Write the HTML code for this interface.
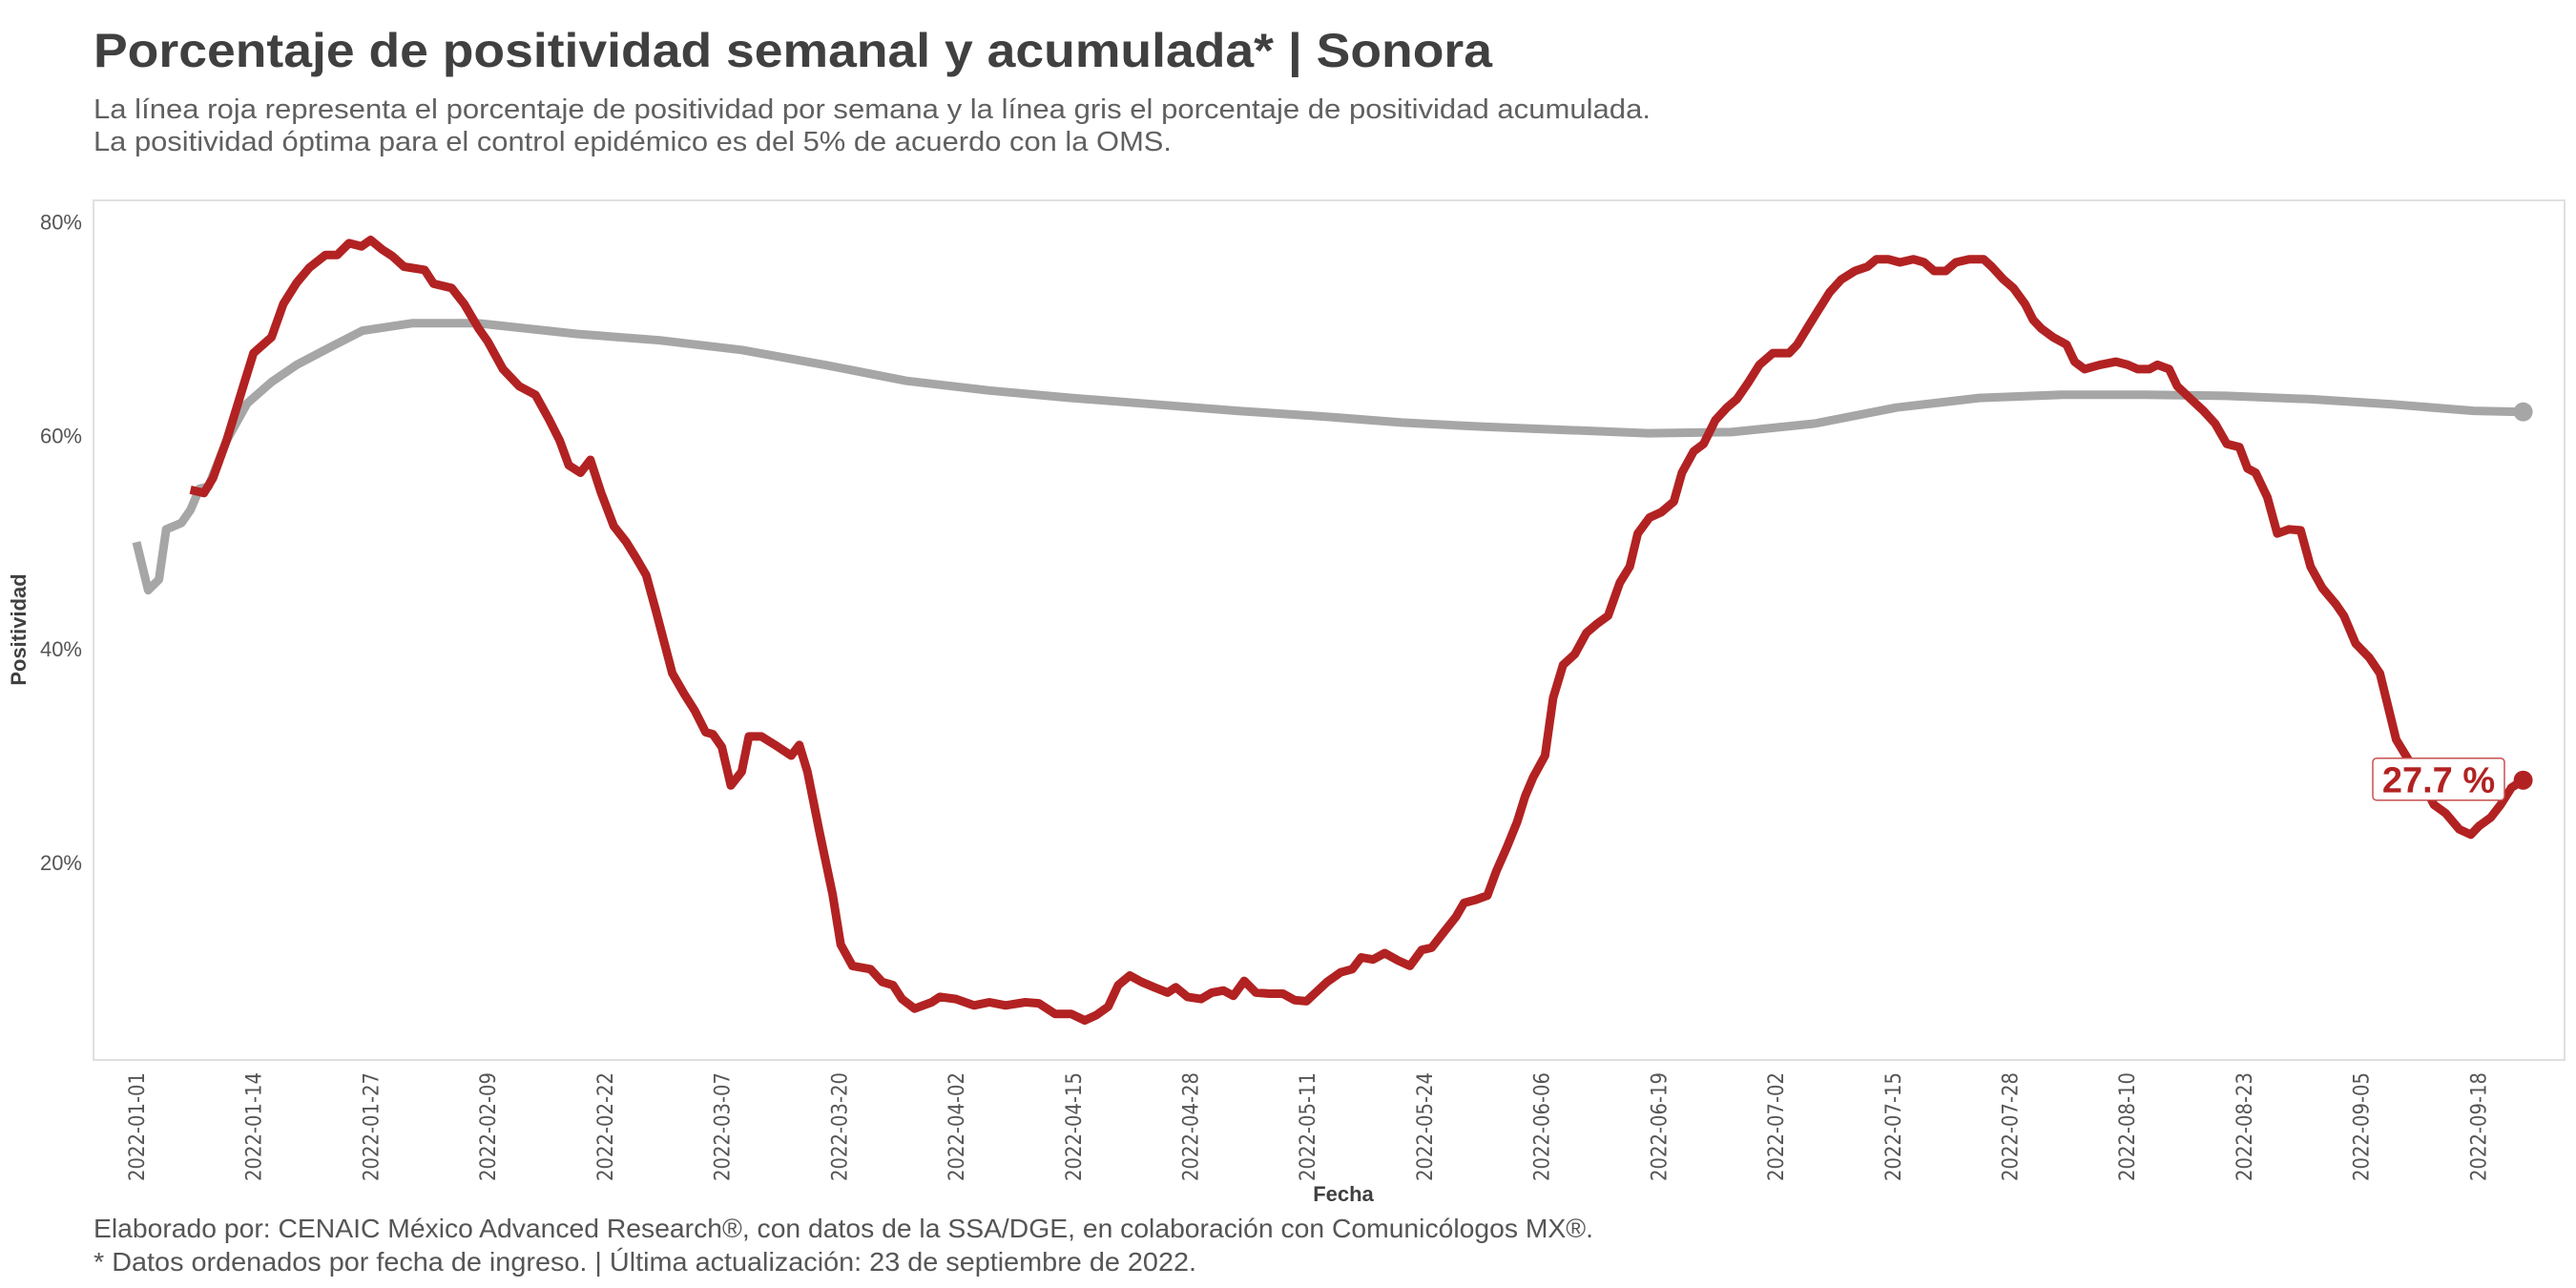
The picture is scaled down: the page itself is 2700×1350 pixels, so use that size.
<!DOCTYPE html>
<html><head><meta charset="utf-8">
<style>
html,body{margin:0;padding:0;background:#fff;}
svg{display:block;font-family:"Liberation Sans",sans-serif;}
</style></head>
<body>
<svg id="chart" width="2700" height="1350" viewBox="0 0 2700 1350" xmlns="http://www.w3.org/2000/svg">
<rect width="2700" height="1350" fill="#fff"/>
<text x="98" y="70" font-size="50" font-weight="bold" fill="#404040" textLength="1466" lengthAdjust="spacingAndGlyphs">Porcentaje de positividad semanal y acumulada* | Sonora</text>
<text x="98" y="124" font-size="29" fill="#606060" textLength="1632" lengthAdjust="spacingAndGlyphs">La línea roja representa el porcentaje de positividad por semana y la línea gris el porcentaje de positividad acumulada.</text>
<text x="98" y="158" font-size="29" fill="#606060" textLength="1130" lengthAdjust="spacingAndGlyphs">La positividad óptima para el control epidémico es del 5% de acuerdo con la OMS.</text>
<rect x="98" y="210" width="2590" height="901" fill="none" stroke="#e0e0e0" stroke-width="2"/>
<g id="yaxis"></g>
<g id="xaxis"></g>
<g id="series"></g>
<text transform="translate(27,660) rotate(-90)" text-anchor="middle" font-size="22" font-weight="bold" fill="#404040">Positividad</text>
<text x="1408" y="1259" text-anchor="middle" font-size="22" font-weight="bold" fill="#404040">Fecha</text>
<text x="98" y="1297" font-size="28" fill="#555" textLength="1572" lengthAdjust="spacingAndGlyphs">Elaborado por: CENAIC México Advanced Research®, con datos de la SSA/DGE, en colaboración con Comunicólogos MX®.</text>
<text x="98" y="1332" font-size="28" fill="#555" textLength="1156" lengthAdjust="spacingAndGlyphs">* Datos ordenados por fecha de ingreso. | Última actualización: 23 de septiembre de 2022.</text>
</svg>
<script>
const yTicks = [20, 40, 60, 80];
const xTickDays = [0,13,26,39,52,65,78,91,104,117,130,143,156,169,182,195,208,221,234,247,260];
const xTickLabels = ["2022-01-01","2022-01-14","2022-01-27","2022-02-09","2022-02-22","2022-03-07","2022-03-20","2022-04-02","2022-04-15","2022-04-28","2022-05-11","2022-05-24","2022-06-06","2022-06-19","2022-07-02","2022-07-15","2022-07-28","2022-08-10","2022-08-23","2022-09-05","2022-09-18"];
const redDays = [6,7.5,8.5,10,12,13,15,16.3,17.8,19.2,21,22.3,23.6,25,26,27.3,28.4,29.7,32,33,35,36.4,38,39,40.7,42.5,44.3,45.8,47,48,49.3,50.4,51.6,53,54.4,55.5,56.6,57.7,59.5,60.8,62,63.2,64,65,66,67.2,68,69.4,70.9,72.7,73.6,74.5,75.8,77.3,78.2,79.5,81.5,82.8,84,85,86.4,88.3,89.2,91,93,94.7,96.5,98.7,100.2,102,103.8,105.3,106.6,107.9,109,110.3,111.6,113,114.5,115.4,116.7,118.2,119.4,120.7,121.8,123,124.3,125.8,127.3,128.6,129.9,130.8,132.2,133.7,135,136,137.3,138.6,140.1,141.4,142.7,143.8,145.1,146.5,147.4,148.7,150,151,152.2,153.3,154.2,155.1,156.4,157.3,158.4,159.7,161,162.1,163.4,164.7,165.8,166.7,168,169.3,170.7,171.6,172.9,174,175.3,176.6,177.7,179,180.2,181.7,183.5,184.4,185.7,186.8,188,189.3,190.8,192.2,193.2,194.5,195.8,197.3,198.5,199.6,200.9,202,203.5,205.1,206,207.3,208.4,209.7,210.6,211.5,212.8,214.3,215.2,216.3,218,219.8,221.1,222.2,223.5,224.4,225.7,226.6,228.1,229.5,230.8,232.1,233.5,234.4,235.3,236.6,237.7,239,240.3,241.4,242.7,244.2,245.1,246.4,247.9,249.1,250,250.9,252.2,253.7,255.1,256.4,257.9,259.2,260.1,261.4,262.5,263.7,265];
const redVals = [54.9,54.6,56,59.5,65,67.7,69.2,72.3,74.3,75.7,76.9,76.9,78,77.7,78.3,77.4,76.8,75.8,75.5,74.2,73.8,72.3,70,68.8,66.2,64.6,63.8,61.5,59.5,57.2,56.5,57.7,54.6,51.5,50,48.5,46.9,43.5,37.7,35.8,34.2,32.2,32,30.8,27.2,28.5,31.8,31.8,31,30,31,28.5,23,17,12.3,10.3,10,8.8,8.5,7.2,6.3,6.9,7.4,7.2,6.6,6.9,6.6,6.9,6.8,5.8,5.8,5.2,5.7,6.5,8.5,9.4,8.8,8.3,7.8,8.3,7.4,7.2,7.8,8,7.5,8.9,7.8,7.7,7.7,7.1,7,7.7,8.8,9.7,10,11.1,10.9,11.5,10.8,10.3,11.8,12,13.4,14.9,16.2,16.5,16.9,19.2,21.5,23.8,26.2,28,30,35.4,38.5,39.5,41.5,42.3,43.1,46.2,47.7,50.8,52.3,52.8,53.8,56.5,58.5,59.2,61.4,62.6,63.4,65,66.6,67.7,67.7,68.5,70.3,71.8,73.4,74.6,75.4,75.8,76.5,76.5,76.2,76.5,76.2,75.4,75.4,76.2,76.5,76.5,75.8,74.6,73.8,72.3,70.8,70,69.2,68.5,66.9,66.2,66.6,66.9,66.6,66.2,66.2,66.6,66.2,64.6,63.4,62.3,61.1,59.2,58.9,56.9,56.5,54.2,50.8,51.2,51.1,47.7,45.7,44.2,43.1,40.5,39.2,37.7,34.6,31.5,29.7,27.7,25.4,24.6,23.1,22.6,23.4,24.2,25.4,27,27.7];
const greyDays = [0,1.3,2.5,3.3,5,6,7,8,10,12.3,15,17.8,21.4,25.1,30.6,37.9,48.9,58.1,67.2,76.4,85.5,94.7,103.8,113,122.2,131.3,140.5,149.6,158.8,167.9,177.1,186.3,195.4,204.6,213.7,222.9,232,241.2,250.4,259.5,265];
const greyVals = [50,45.5,46.5,51.2,51.8,53,55,55.2,59.5,63,65,66.6,68.2,69.8,70.5,70.5,69.5,68.9,68,66.6,65.1,64.2,63.5,62.9,62.3,61.8,61.2,60.8,60.5,60.2,60.3,61.1,62.6,63.5,63.8,63.8,63.7,63.4,62.9,62.3,62.2];
const lastLabel = "27.7 %";

const NS = "http://www.w3.org/2000/svg";
function xs(d){ return 143 + d * 9.44; }
function ys(v){ return 232.5 + (80 - v) * 11.19; }
function mk(tag, attrs, parent){ const e = document.createElementNS(NS, tag); for (const k in attrs) e.setAttribute(k, attrs[k]); parent.appendChild(e); return e; }

const yaxis = document.getElementById('yaxis');
yTicks.forEach(t => {
  const tx = mk('text', {x: 86, y: ys(t) + 8, 'text-anchor': 'end', 'font-size': 22, fill: '#555'}, yaxis);
  
  
  tx.textContent = t + '%';
});
const xaxis = document.getElementById('xaxis');
xTickDays.forEach((d, i) => {
  const tx = mk('text', {transform: 'translate(' + (xs(d) + 8) + ',1124) rotate(-90)', 'text-anchor': 'end', 'font-size': 22, fill: '#555', 'font-family': '"DejaVu Sans",sans-serif', textLength: 114, lengthAdjust: 'spacingAndGlyphs'}, xaxis);
  
  
  tx.textContent = xTickLabels[i];
});

const series = document.getElementById('series');
function pts(ds, vs){ return ds.map((d, i) => xs(d).toFixed(1) + ',' + ys(vs[i]).toFixed(1)).join(' '); }
const gl = mk('polyline', {points: pts(greyDays, greyVals), fill: 'none', stroke: '#a6a6a6', 'stroke-width': 9, 'stroke-linejoin': 'round'}, series);


const rl = mk('polyline', {points: pts(redDays, redVals), fill: 'none', stroke: '#b22222', 'stroke-width': 9, 'stroke-linejoin': 'round'}, series);


const gd = mk('circle', {cx: xs(greyDays[greyDays.length-1]), cy: ys(greyVals[greyVals.length-1]), r: 10, fill: '#a6a6a6'}, series);


const rd = mk('circle', {cx: xs(redDays[redDays.length-1]), cy: ys(redVals[redVals.length-1]), r: 10, fill: '#b22222'}, series);


const ly = ys(redVals[redVals.length-1]);
const lb = mk('rect', {x: 2487, y: ly - 23, width: 138, height: 44, rx: 4, fill: '#fff', stroke: '#c85050', 'stroke-width': 1.5}, series);


const lt = mk('text', {x: 2556, y: ly + 13, 'text-anchor': 'middle', 'font-size': 38, 'font-weight': 'bold', fill: '#b22222'}, series);


lt.textContent = lastLabel;
</script>
</body></html>
